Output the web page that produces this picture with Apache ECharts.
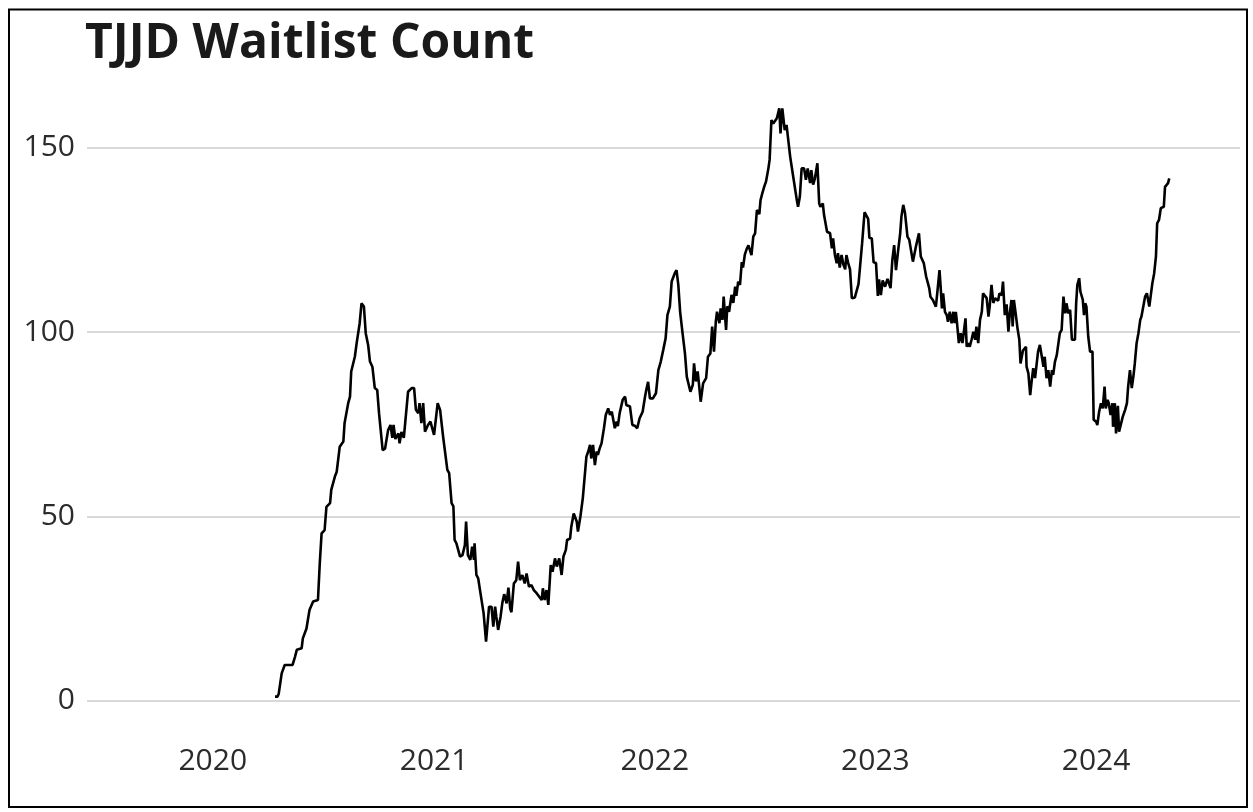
<!DOCTYPE html>
<html>
<head>
<meta charset="utf-8">
<script src="https://cdn.jsdelivr.net/npm/echarts@6/dist/echarts.min.js"></script>
<style>
html,body{margin:0;padding:0;background:#fff;}
#chart{width:1253px;height:812px;}
</style>
</head>
<body>
<div id="chart"></div>
<script>
// ---- data ----
const titleText = 'TJJD Waitlist Count';
const baseDate = '2020-01-01';           // day 0 of dayOffset
const axisStart = '2019-06-07';
const axisEnd = '2024-08-26';
const yTicks = [0, 50, 100, 150];
const dayOffset = [
103,107,109,112,114,119,132,136,139,147,149,155,160,166,174,177,180,185,188,194,196,202,205,210,216,218,224,227,229,235,238,243,246,250,253,257,260,264,268,272,275,281,285,290,294,297,299,302,307,309,312,316,319,323,329,333,336,340,342,345,348,351,354,356,360,363,366,369,372,376,378,381,384,388,391,395,398,400,403,406,409,413,417,419,422,426,429,432,433,436,439,442,445,448,452,454,457,461,464,467,469,472,476,479,482,486,489,492,494,498,502,505,508,512,516,519,523,527,531,536,540,544,546,549,552,555,559,562,566,569,573,577,580,584,586,591,593,597,602,604,608,612,615,618,621,624,626,629,632,635,637,640,643,647,650,654,657,660,662,665,668,670,673,678,682,684,690,694,698,702,706,711,715,717,720,723,728,733,737,741,745,749,752,756,759,764,767,770,773,777,781,784,786,790,794,796,799,802,804,807,811,816,819,823,826,829,832,834,838,840,843,845,849,851,854,858,861,864,866,869,872,875,877,880,883,886,888,891,894,897,899,900,904,906,909,912,915,919,921,924,927,930,933,935,937,939,942,945,946,949,952,955,957,960,963,966,968,971,974,978,981,984,988,990,993,996,1000,1003,1005,1009,1011,1014,1016,1021,1024,1026,1029,1032,1034,1037,1040,1043,1046,1048,1051,1054,1057,1059,1062,1065,1068,1071,1074,1078,1081,1084,1086,1090,1093,1097,1100,1102,1105,1108,1112,1116,1119,1121,1124,1127,1130,1134,1137,1139,1142,1145,1146,1149,1152,1154,1158,1160,1163,1165,1168,1171,1174,1176,1180,1182,1185,1187,1191,1193,1196,1198,1202,1204,1206,1208,1211,1214,1216,1219,1222,1225,1227,1229,1231,1234,1237,1240,1242,1245,1247,1250,1252,1255,1258,1261,1263,1266,1269,1272,1274,1277,1280,1283,1285,1288,1291,1294,1296,1299,1301,1305,1307,1310,1313,1316,1318,1321,1323,1325,1328,1331,1334,1336,1340,1343,1345,1346,1349,1352,1354,1357,1360,1363,1365,1368,1371,1374,1376,1379,1382,1385,1388,1390,1393,1396,1398,1401,1404,1407,1410,1412,1415,1418,1421,1423,1426,1428,1430,1433,1435,1439,1441,1443,1445,1448,1451,1455,1457,1461,1463,1466,1469,1472,1475,1477,1480,1482,1485,1488,1489,1492,1494,1497,1499,1502,1505,1509,1512,1514,1517,1520,1523,1525,1528,1531,1534,1536,1539,1542,1545,1547,1549,1552,1554,1557,1560,1562,1565,1568,1570,1573,1575,1578,1580,1582
];
const waitlist = [
1.1,1.1,1.8,1.8,7.4,9.7,9.7,11.9,13.8,14.2,16.9,19.6,24.6,26.9,27.3,37.3,45.4,46.3,52.6,53.6,57.2,60.8,62.1,68.9,70.3,75.3,80.7,82.5,89.3,93.3,97.0,102.4,107.8,106.9,99.7,96.5,92.0,90.6,84.8,84.3,78.0,68.0,68.4,73.4,74.8,71.3,74.8,71.0,72.5,69.8,72.9,71.3,71.0,83.8,84.8,84.8,78.9,78.0,80.7,75.3,80.7,73.0,73.0,74.8,75.7,75.7,72.1,72.1,80.7,78.9,78.4,71.6,71.6,62.6,61.7,53.6,52.7,43.6,42.7,43.1,39.1,39.5,42.2,48.6,39.5,38.2,41.8,38.2,42.7,34.1,33.2,30.0,30.5,23.7,16.0,16.0,25.5,25.5,20.1,25.5,22.8,19.2,22.8,26.6,28.9,26.4,30.7,25.0,24.0,31.8,32.7,37.7,32.7,34.1,31.8,34.5,30.9,31.4,30.0,29.1,28.2,27.3,30.5,27.3,30.0,26.0,36.8,35.0,38.6,36.4,38.6,34.1,39.1,40.9,43.6,44.0,47.2,50.8,48.6,45.9,49.9,54.9,55.2,66.2,67.6,69.4,65.7,69.4,63.9,67.6,66.7,68.5,69.8,73.9,77.5,79.3,77.5,78.4,78.2,73.9,75.7,74.5,78.0,81.6,82.5,80.2,79.8,74.8,74.6,73.9,76.6,78.4,82.5,84.3,86.5,82.0,82.0,83.4,89.7,92.0,95.1,98.3,104.6,106.9,113.7,115.9,116.8,112.8,105.5,99.7,94.2,87.9,87.9,83.8,85.7,91.5,86.6,89.3,86.2,81.1,86.1,87.5,93.3,94.2,101.5,94.7,102.8,105.5,102.4,106.4,103.3,109.6,100.6,107.0,105.5,110.1,107.9,112.3,109.8,113.7,112.8,119.0,117.5,121.0,122.5,123.5,123.0,120.9,125.9,126.8,126.8,133.1,132.0,135.8,137.7,139.4,140.8,144.4,146.7,157.5,156.6,156.2,158.0,157.5,160.7,153.9,160.7,160.3,154.8,156.2,156.6,147.6,147.6,142.2,141.7,135.8,134.0,136.7,144.4,144.4,141.3,144.4,140.4,143.9,140.0,141.7,145.8,134.9,134.0,134.9,131.8,131.8,127.2,126.8,122.7,125.4,120.9,118.7,121.4,117.5,120.9,118.3,117.0,120.9,118.7,117.0,109.2,109.6,109.4,109.4,113.0,118.5,124.1,132.5,132.2,130.7,125.6,125.4,118.9,118.7,109.8,114.3,110.0,114.0,112.3,114.4,114.0,111.9,119.6,123.6,116.8,122.7,126.8,131.3,134.5,132.2,131.8,125.9,125.0,125.5,119.1,119.1,123.2,123.5,126.8,120.5,121.0,118.7,115.0,115.5,111.9,109.6,108.7,108.3,106.9,110.1,116.8,111.9,106.4,110.5,105.5,104.6,102.8,105.5,102.4,105.5,102.4,105.5,102.4,97.0,99.7,97.0,99.7,103.7,96.0,97.0,96.0,97.9,100.1,97.9,101.5,97.0,103.3,105.5,110.5,110.5,109.2,104.2,107.0,112.8,107.9,109.2,109.0,108.5,110.5,110.0,113.7,104.6,107.5,100.1,104.6,108.7,101.5,108.7,105.0,101.0,97.9,91.5,95.0,95.5,96.0,90.6,88.8,82.9,86.1,90.2,87.5,87.5,94.7,96.5,96.0,90.6,93.3,87.5,89.7,85.2,89.7,88.4,92.0,93.8,93.3,99.7,100.6,109.6,105.1,107.8,105.1,106.0,97.9,97.9,97.9,107.8,112.8,114.6,111.0,108.7,104.6,107.8,106.9,98.8,94.7,94.7,76.2,75.7,74.8,78.4,80.7,79.3,85.2,79.3,81.6,80.7,77.5,80.7,74.3,80.7,72.5,80.0,73.0,72.5,77.0,78.9,80.7,85.2,89.7,84.8,88.4,91.5,97.0,99.7,103.3,104.2,104.6,109.6,110.5,110.9,106.9,106.9,113.2,115.9,120.5,129.5,130.4,133.6,133.2,134.0,139.4,139.0,140.4,141.7
];

// ---- build ----
const DAY = 86400000;
const base = Date.parse(baseDate + 'T00:00:00Z');
const seriesData = dayOffset.map((d, i) => [base + d * DAY, waitlist[i]]);

const chart = echarts.init(document.getElementById('chart'), null, {renderer: 'canvas'});
const FONT = '"Open Sans", "Noto Sans", sans-serif';
chart.setOption({
  animation: false,
  useUTC: true,
  backgroundColor: '#ffffff',
  title: {
    text: titleText,
    left: 85, top: 20, padding: 0,
    textStyle: {fontFamily: FONT, fontWeight: 'bold', fontSize: 48, color: '#1a1a1a'}
  },
  graphic: [{
    type: 'rect', z: 100, silent: true,
    shape: {x: 9, y: 9.5, width: 1238, height: 797.5},
    style: {fill: 'none', stroke: '#000', lineWidth: 2}
  }],
  grid: {left: 87, right: 13, top: 74, bottom: 111.3, containLabel: false},
  xAxis: {
    type: 'time',
    min: Date.parse(axisStart + 'T00:00:00Z'),
    max: Date.parse(axisEnd + 'T00:00:00Z'),
    splitNumber: 5,
    maxInterval: 366 * DAY,
    axisLine: {show: false},
    axisTick: {show: false},
    splitLine: {show: false},
    axisLabel: {
      showMinLabel: false, showMaxLabel: false,
      margin: 46, fontFamily: FONT, fontSize: 30, color: '#2b2b2b',
      formatter: function (v) {
        const d = new Date(v);
        return (d.getUTCMonth() === 0 && d.getUTCDate() === 1) ? String(d.getUTCFullYear()) : '';
      }
    }
  },
  yAxis: {
    type: 'value',
    min: yTicks[0], max: 170, interval: 50,
    axisLine: {show: false},
    axisTick: {show: false},
    axisLabel: {
      showMaxLabel: false,
      margin: 12, fontFamily: FONT, fontSize: 30, color: '#2b2b2b'
    },
    splitLine: {show: true, showMaxLine: false, lineStyle: {color: '#d9d9d9', width: 2}}
  },
  series: [{
    type: 'line',
    data: seriesData,
    showSymbol: false,
    symbol: 'none',
    lineStyle: {color: '#000', width: 2.6},
    z: 3
  }]
});
</script>
</body>
</html>
